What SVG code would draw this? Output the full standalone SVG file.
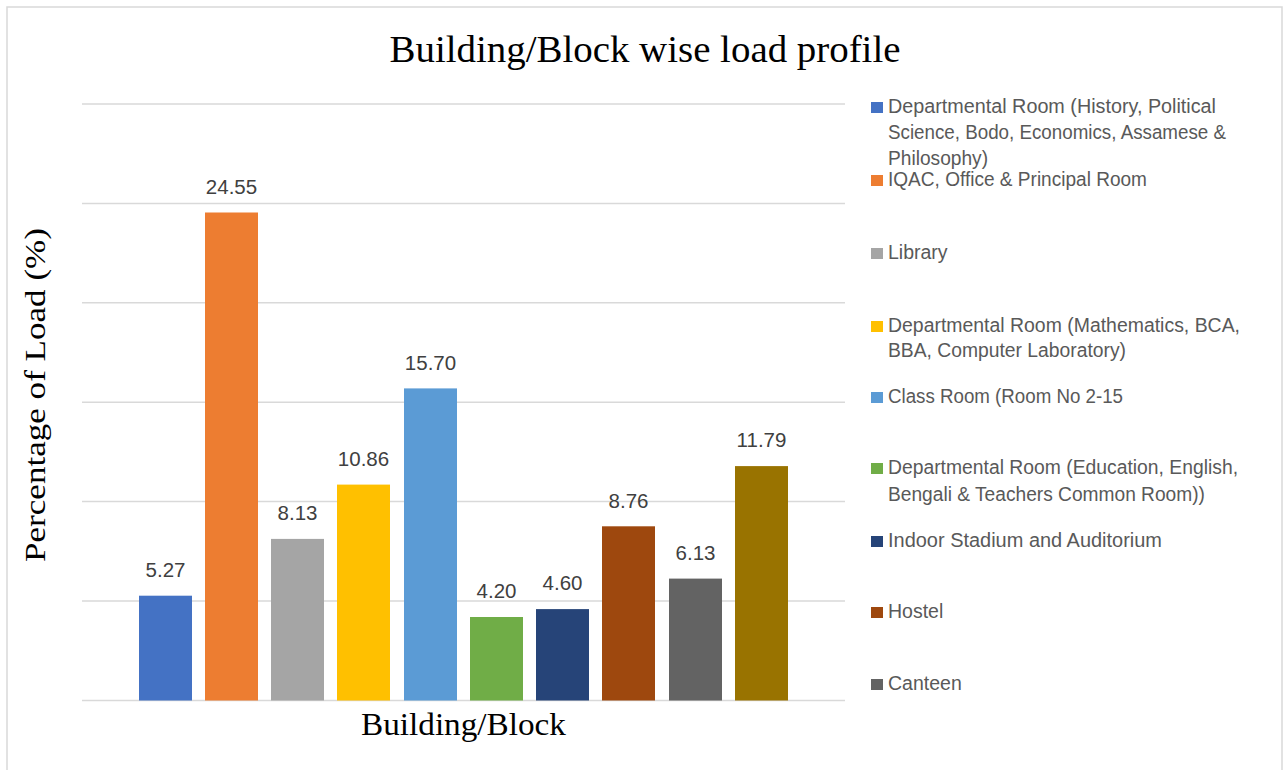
<svg xmlns="http://www.w3.org/2000/svg" width="1285" height="770" viewBox="0 0 1285 770">
<style>
.grid{stroke:#d9d9d9;stroke-width:1.5}
.val{font-family:"Liberation Sans",Arial,sans-serif;font-size:20.5px;fill:#404040;text-anchor:middle}
.leg{font-family:"Liberation Sans",Arial,sans-serif;font-size:19.5px;fill:#595959}
.ttl{font-family:"Liberation Serif","Times New Roman",serif;fill:#000}
</style>
<rect x="0" y="0" width="1285" height="770" fill="#fff"/>
<rect x="7" y="7" width="1275" height="780" fill="#fff" stroke="#d9d9d9" stroke-width="1.5"/>
<text class="ttl" x="645" y="62" font-size="37" text-anchor="middle" textLength="511" lengthAdjust="spacingAndGlyphs">Building/Block wise load profile</text>
<g id="gridlines">
<line class="grid" x1="82" y1="104" x2="845" y2="104"/>
<line class="grid" x1="82" y1="203.5" x2="845" y2="203.5"/>
<line class="grid" x1="82" y1="302.8" x2="845" y2="302.8"/>
<line class="grid" x1="82" y1="402.2" x2="845" y2="402.2"/>
<line class="grid" x1="82" y1="501.6" x2="845" y2="501.6"/>
<line class="grid" x1="82" y1="601" x2="845" y2="601"/>
<line class="grid" x1="82" y1="700.5" x2="845" y2="700.5"/>
</g>
<g id="bars">
<g id="bar1"><rect x="139" y="595.7" width="53" height="104.8" fill="#4472c4"/><text class="val" x="165.5" y="577">5.27</text></g>
<g id="bar2"><rect x="205" y="212.5" width="53" height="488" fill="#ed7d31"/><text class="val" x="231.5" y="193.5">24.55</text></g>
<g id="bar3"><rect x="271" y="538.9" width="53" height="161.6" fill="#a5a5a5"/><text class="val" x="297.5" y="520">8.13</text></g>
<g id="bar4"><rect x="337" y="484.6" width="53" height="215.9" fill="#ffc000"/><text class="val" x="363.5" y="466">10.86</text></g>
<g id="bar5"><rect x="404" y="388.4" width="53" height="312.1" fill="#5b9bd5"/><text class="val" x="430.5" y="369.5">15.70</text></g>
<g id="bar6"><rect x="470" y="617" width="53" height="83.5" fill="#70ad47"/><text class="val" x="496.5" y="598">4.20</text></g>
<g id="bar7"><rect x="536" y="609.1" width="53" height="91.4" fill="#264478"/><text class="val" x="562.5" y="590">4.60</text></g>
<g id="bar8"><rect x="602" y="526.3" width="53" height="174.2" fill="#9e480e"/><text class="val" x="628.5" y="507.5">8.76</text></g>
<g id="bar9"><rect x="669" y="578.6" width="53" height="121.9" fill="#636363"/><text class="val" x="695.5" y="559.5">6.13</text></g>
<g id="bar10"><rect x="735" y="466.1" width="53" height="234.4" fill="#997300"/><text class="val" x="761.5" y="447">11.79</text></g>
</g>
<text class="ttl" font-size="30" text-anchor="middle" textLength="334" lengthAdjust="spacingAndGlyphs" transform="translate(45,395) rotate(-90)">Percentage of Load (%)</text>
<text class="ttl" x="463.5" y="735" font-size="31" text-anchor="middle" textLength="205" lengthAdjust="spacingAndGlyphs">Building/Block</text>
<g id="legend">
<g id="leg1"><rect x="871" y="102" width="12" height="11" fill="#4472c4"/><text class="leg" x="888" y="113" textLength="328" lengthAdjust="spacingAndGlyphs">Departmental Room (History, Political</text><text class="leg" x="888" y="139" textLength="338" lengthAdjust="spacingAndGlyphs">Science, Bodo, Economics, Assamese &amp;</text><text class="leg" x="888" y="165" textLength="100" lengthAdjust="spacingAndGlyphs">Philosophy)</text></g>
<g id="leg2"><rect x="871" y="175" width="12" height="11" fill="#ed7d31"/><text class="leg" x="888" y="186" textLength="259" lengthAdjust="spacingAndGlyphs">IQAC, Office &amp; Principal Room</text></g>
<g id="leg3"><rect x="871" y="248" width="12" height="11" fill="#a5a5a5"/><text class="leg" x="888" y="259">Library</text></g>
<g id="leg4"><rect x="871" y="321" width="12" height="11" fill="#ffc000"/><text class="leg" x="888" y="332" textLength="352" lengthAdjust="spacingAndGlyphs">Departmental Room (Mathematics, BCA,</text><text class="leg" x="888" y="357" textLength="238" lengthAdjust="spacingAndGlyphs">BBA, Computer Laboratory)</text></g>
<g id="leg5"><rect x="871" y="392" width="12" height="11" fill="#5b9bd5"/><text class="leg" x="888" y="403" textLength="235" lengthAdjust="spacingAndGlyphs">Class Room (Room No 2-15</text></g>
<g id="leg6"><rect x="871" y="463" width="12" height="11" fill="#70ad47"/><text class="leg" x="888" y="474" textLength="350" lengthAdjust="spacingAndGlyphs">Departmental Room (Education, English,</text><text class="leg" x="888" y="501" textLength="317" lengthAdjust="spacingAndGlyphs">Bengali &amp; Teachers Common Room))</text></g>
<g id="leg7"><rect x="871" y="536" width="12" height="11" fill="#264478"/><text class="leg" x="888" y="547" textLength="274" lengthAdjust="spacingAndGlyphs">Indoor Stadium and Auditorium</text></g>
<g id="leg8"><rect x="871" y="607" width="12" height="11" fill="#9e480e"/><text class="leg" x="888" y="618">Hostel</text></g>
<g id="leg9"><rect x="871" y="679" width="12" height="11" fill="#636363"/><text class="leg" x="888" y="690">Canteen</text></g>
</g>
</svg>
